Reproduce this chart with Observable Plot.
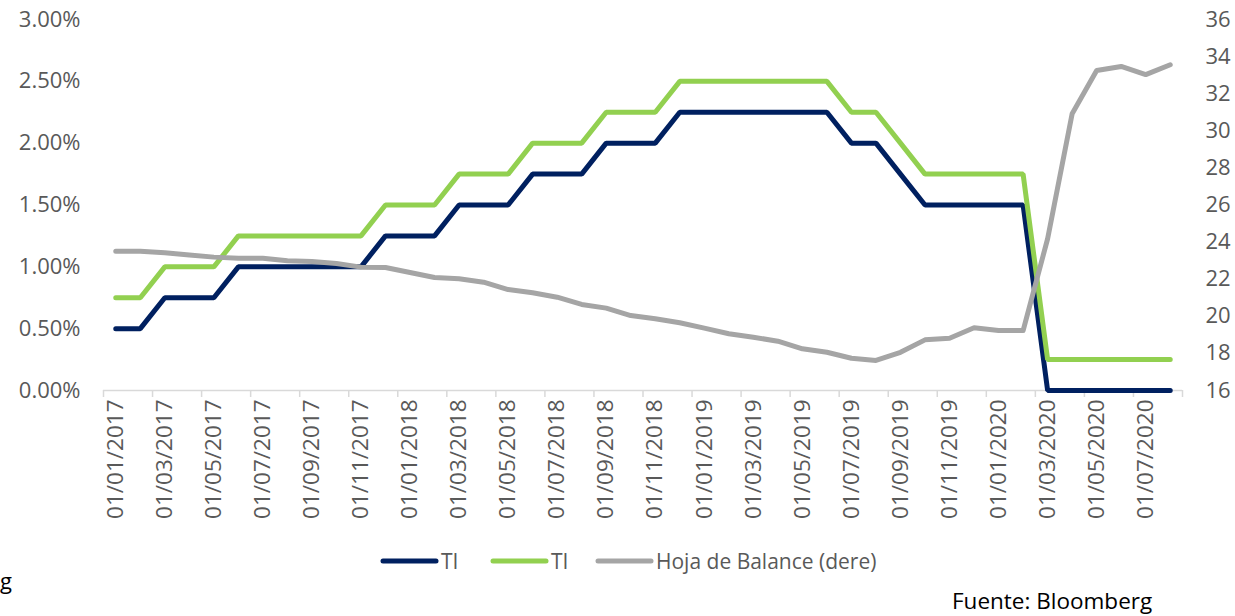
<!DOCTYPE html>
<html>
<head>
<meta charset="utf-8">
<script src="https://cdn.jsdelivr.net/npm/d3@7"></script>
<script src="https://cdn.jsdelivr.net/npm/@observablehq/plot@0.6"></script>
<style>
  html, body { margin: 0; padding: 0; background: #fff; }
  #wrap { position: relative; width: 1235px; height: 616px; overflow: hidden; font-family: "Open Sans", sans-serif; }
  #chart { position: absolute; left: 0; top: 0; }
  .leg { position: absolute; top: 547px; height: 28px; display: flex; align-items: center; font-size: 21px; color: #595959; white-space: nowrap; }
  .leg svg { margin-right: 2px; }
  #source { position: absolute; left: 952px; top: 585px; font-size: 22.5px; color: #000; white-space: nowrap; }
  #stray { position: absolute; left: 0px; top: 565px; font-size: 22px; color: #000; }
</style>
</head>
<body>
<div id="wrap">
  <div id="chart"></div>
  <div id="legend"></div>
  <div id="source">Fuente: Bloomberg</div>
  <div id="stray">g</div>
</div>
<script>
// Monthly categories (Excel category axis)
const dates = [
  "01/01/2017","01/02/2017","01/03/2017","01/04/2017","01/05/2017","01/06/2017",
  "01/07/2017","01/08/2017","01/09/2017","01/10/2017","01/11/2017","01/12/2017",
  "01/01/2018","01/02/2018","01/03/2018","01/04/2018","01/05/2018","01/06/2018",
  "01/07/2018","01/08/2018","01/09/2018","01/10/2018","01/11/2018","01/12/2018",
  "01/01/2019","01/02/2019","01/03/2019","01/04/2019","01/05/2019","01/06/2019",
  "01/07/2019","01/08/2019","01/09/2019","01/10/2019","01/11/2019","01/12/2019",
  "01/01/2020","01/02/2020","01/03/2020","01/04/2020","01/05/2020","01/06/2020",
  "01/07/2020","01/08/2020"
];

// TI (lower bound), % — left axis
const tiLow = [
  0.50,0.50,0.75,0.75,0.75,1.00,1.00,1.00,1.00,1.00,1.00,1.25,
  1.25,1.25,1.50,1.50,1.50,1.75,1.75,1.75,2.00,2.00,2.00,2.25,
  2.25,2.25,2.25,2.25,2.25,2.25,2.00,2.00,1.75,1.50,1.50,1.50,
  1.50,1.50,0.00,0.00,0.00,0.00,0.00,0.00
];

// TI (upper bound), % — left axis
const tiHigh = [
  0.75,0.75,1.00,1.00,1.00,1.25,1.25,1.25,1.25,1.25,1.25,1.50,
  1.50,1.50,1.75,1.75,1.75,2.00,2.00,2.00,2.25,2.25,2.25,2.50,
  2.50,2.50,2.50,2.50,2.50,2.50,2.25,2.25,2.00,1.75,1.75,1.75,
  1.75,1.75,0.25,0.25,0.25,0.25,0.25,0.25
];

// Hoja de Balance (right axis)
const balance = [
  23.51,23.51,23.42,23.30,23.19,23.13,23.13,22.99,22.95,22.85,22.65,22.63,
  22.36,22.09,22.02,21.84,21.44,21.27,21.03,20.64,20.44,20.04,19.87,19.65,
  19.36,19.06,18.87,18.66,18.25,18.06,17.74,17.62,18.06,18.73,18.82,19.38,
  19.23,19.23,24.18,30.92,33.25,33.47,33.03,33.56
];

const leftTicks = [0, 0.5, 1, 1.5, 2, 2.5, 3];
const rightTicks = [16, 18, 20, 22, 24, 26, 28, 30, 32, 34, 36];
const seriesNames = ["TI", "TI", "Hoja de Balance (dere)"];
const seriesColors = ["#002060", "#92D050", "#A5A5A5"];

// right axis [16,36] mapped onto left axis [0,3]
const R0 = 16, R1 = 36, L1 = 3;
const toLeft = v => (v - R0) / (R1 - R0) * L1;
const fromLeft = y => R0 + y / L1 * (R1 - R0);

const idx = dates.map((d, i) => i);
const labelIdx = idx.filter(i => i % 2 === 0);
const boundaries = [...labelIdx.map(i => i - 0.5), dates.length - 0.5];

const rows = idx.map(i => ({i, low: tiLow[i], high: tiHigh[i], bal: toLeft(balance[i])}));

const chart = Plot.plot({
  width: 1235,
  height: 616,
  marginTop: 19,
  marginBottom: 226,
  marginLeft: 103,
  marginRight: 53,
  x: {domain: [-0.5, dates.length - 0.5], label: null},
  y: {domain: [0, L1], label: null},
  style: {fontFamily: "Open Sans, sans-serif", fontSize: "22px", color: "#595959", background: "white"},
  marks: [
    Plot.axisY(leftTicks, {anchor: "left", tickSize: 0, tickPadding: 23, tickFormat: d => d.toFixed(2) + "%", fill: "#595959", label: null}),
    Plot.axisY(rightTicks.map(toLeft), {anchor: "right", tickSize: 0, tickPadding: 23, tickFormat: d => String(Math.round(fromLeft(d))), fill: "#595959", label: null}),
    Plot.ruleY([0], {stroke: "#d9d9d9", strokeWidth: 1.5}),
    Plot.axisX(boundaries, {tickSize: 7, stroke: "#d9d9d9", strokeWidth: 1.5, tickFormat: () => "", label: null}),
    Plot.axisX(labelIdx, {tickSize: 0, tickPadding: 9, tickRotate: -90, tickFormat: i => dates[i], fill: "#595959", fontSize: 22.5, label: null}),
    Plot.line(rows, {x: "i", y: "low", stroke: seriesColors[0], strokeWidth: 5, strokeLinecap: "round", strokeLinejoin: "miter", curve: "linear"}),
    Plot.line(rows, {x: "i", y: "high", stroke: seriesColors[1], strokeWidth: 5, strokeLinecap: "round", strokeLinejoin: "miter", curve: "linear"}),
    Plot.line(rows, {x: "i", y: "bal", stroke: seriesColors[2], strokeWidth: 5, strokeLinecap: "round", strokeLinejoin: "round", curve: "linear"})
  ]
});
document.getElementById("chart").appendChild(chart);

// legend
const legLefts = [380, 490, 595];
const legend = document.getElementById("legend");
seriesNames.forEach((name, k) => {
  const item = document.createElement("div");
  item.className = "leg";
  item.style.left = legLefts[k] + "px";
  item.innerHTML = `<svg width="59" height="10"><line x1="3" y1="5" x2="56" y2="5" stroke="${seriesColors[k]}" stroke-width="5" stroke-linecap="round"/></svg><span>${name}</span>`;
  legend.appendChild(item);
});
</script>
</body>
</html>
